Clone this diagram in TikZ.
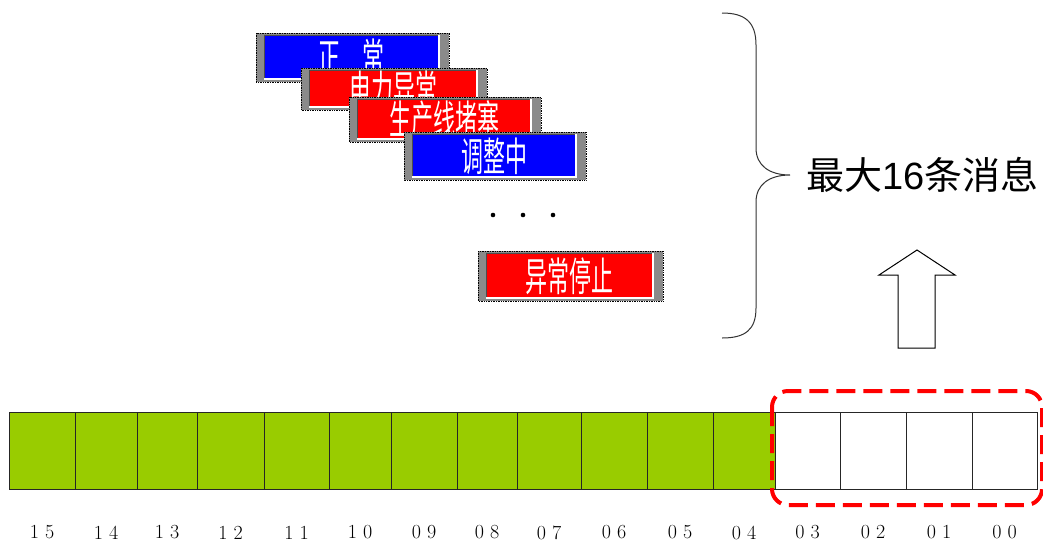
\documentclass[tikz,border=0pt]{standalone}
\usepackage{fontspec}
\newfontfamily\cjk{Noto Sans CJK SC}
\newfontfamily\boxfont[FakeStretch=0.55]{Noto Sans CJK SC}
\newfontfamily\arial{Liberation Sans}
\usetikzlibrary{calc}
\definecolor{cellg}{HTML}{99CC00}
\definecolor{cellw}{HTML}{FFFFFF}
\definecolor{msgblue}{HTML}{0000FF}
\definecolor{msgred}{HTML}{FF0000}
\definecolor{framegray}{HTML}{8A8A8A}
\tikzset{
  cell/.style={draw=black!85, line width=0.9pt, minimum height=77pt, inner sep=0pt, outer sep=0pt},
  lab/.style={font=\fontsize{20}{21}\selectfont, inner sep=0pt},
  boxtext/.style={text=white, font=\boxfont\fontsize{40}{42}\selectfont, inner sep=0pt},
  frame/.style={fill=framegray, draw=black, line width=0.7pt, densely dotted},
  selbox/.style={draw=msgred, line width=4pt, dash pattern=on 19pt off 8pt, rounded corners=16pt},
  bracestyle/.style={draw=black!80, line width=1pt},
  blockarrow/.style={draw=black, line width=1pt, fill=white},
  bigtext/.style={font=\fontsize{38}{40}\selectfont, inner sep=0pt, anchor=west}
}
% #1 name, #2 x1, #3 y1, #4 x2, #5 y2, #6 colour, #7 text
\newcommand\msgbox[7]{%
  \path[frame] (#2,#3) rectangle (#4,#5);
  \fill[#6] (#2+8,#3+2) rectangle (#4-10,#5-3);
  \draw[black!70, line width=1pt] (#2+8,#5-3) -- (#2+8,#3+2) -- (#4-10,#3+2);
  \draw[white, line width=1.2pt] (#2+8,#5-3) -- (#4-10,#5-3) -- (#4-10,#3+2);
  \node[boxtext] (#1) at ({(#2+#4)/2-1},{(#3+#5)/2}) {#7};
}
\begin{document}
\begin{tikzpicture}[x=1pt,y=-1pt]
\useasboundingbox (0,0) rectangle (1043,544);

% message boxes
\msgbox{m1}{256}{33}{449}{82}{msgblue}{正　常}
\msgbox{m2}{301}{68}{487}{110}{msgred}{电力异常}
\msgbox{m3}{349}{97}{541}{142}{msgred}{生产线堵塞}
\msgbox{m4}{404}{132}{586}{180}{msgblue}{调整中}
\msgbox{m5}{478}{251}{663}{301}{msgred}{异常停止}

% dots
\foreach \x in {493,523,553}
  \fill[black] (\x,215) circle (2.3pt);

% brace
\draw[bracestyle] (722,13) .. controls (745,13) and (756,22) .. (756,45)
  -- (756,148) .. controls (756,166) and (770,175) .. (790,175)
  .. controls (770,175) and (756,184) .. (756,202)
  -- (756,308) .. controls (756,330) and (745,338) .. (722,338);

\node[bigtext] (title) at (806,175) {\cjk 最大\arial 16\cjk 条消息};

% block arrow
\draw[blockarrow] (898,348) -- (898,275) -- (879,275) -- (917,250) -- (955,275)
  -- (935,275) -- (935,348) -- cycle;

% register cells
\foreach \a/\b/\d/\e/\c in {9/75/1/5/cellg, 75/137/1/4/cellg, 137/197/1/3/cellg,
  197/264/1/2/cellg, 264/329/1/1/cellg, 329/391/1/0/cellg, 391/457/0/9/cellg,
  457/517/0/8/cellg, 517/581/0/7/cellg, 581/647/0/6/cellg, 647/713/0/5/cellg,
  713/775/0/4/cellg, 775/840/0/3/cellw, 840/906/0/2/cellw, 906/972/0/1/cellw,
  972/1037/0/0/cellw}{
  \node[cell, fill=\c, minimum width={(\b-\a)*1pt}] (c\d\e) at ({(\a+\b)/2},450.5) {};
  \node[lab] (l\d\e) at ($(c\d\e.center)+(0,82)$) {\d\hspace{6pt}\e};
}

% selection frame
\draw[selbox] (772,391) rectangle (1042,505);
\end{tikzpicture}
\end{document}
